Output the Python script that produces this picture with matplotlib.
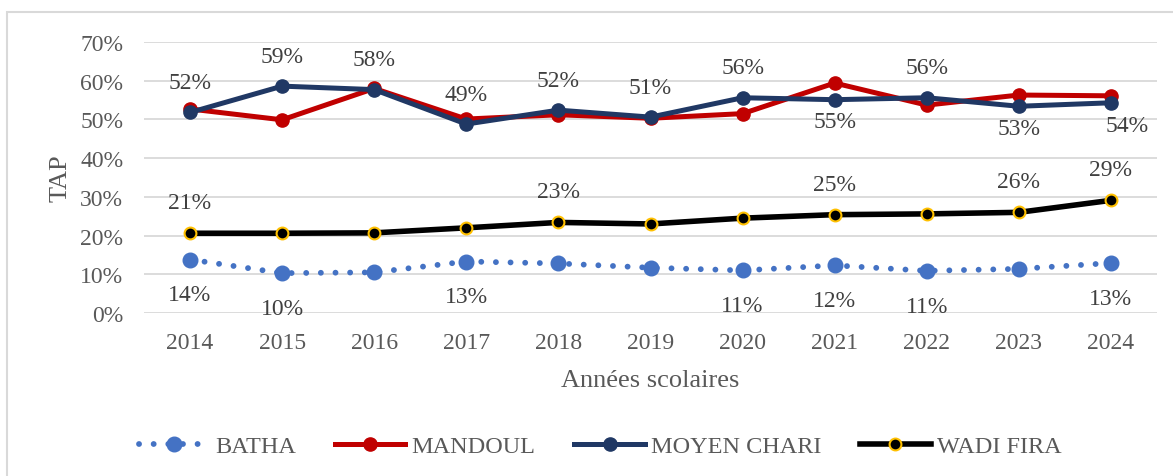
import matplotlib.pyplot as plt
from matplotlib.patches import Rectangle
from matplotlib.ticker import PercentFormatter

years = ['2014', '2015', '2016', '2017', '2018', '2019', '2020', '2021', '2022', '2023', '2024']

batha = [13.8, 10.3, 10.5, 13.3, 12.8, 11.7, 11.0, 12.3, 10.9, 11.4, 12.9]
mandoul = [52.7, 49.9, 58.0, 50.1, 51.2, 50.3, 51.5, 59.4, 53.7, 56.3, 56.1]
moyen_chari = [51.8, 58.6, 57.7, 48.8, 52.4, 50.6, 55.6, 55.1, 55.6, 53.4, 54.3]
wadi_fira = [20.6, 20.6, 20.7, 22.0, 23.4, 23.0, 24.5, 25.4, 25.6, 26.0, 29.1]

# which points carry a data label, and on which side
moyen_above = [0, 1, 2, 3, 4, 5, 6, 8]
moyen_below = [7, 9, 10]
wadi_above = [0, 4, 7, 9, 10]
batha_below = [0, 1, 3, 6, 7, 8, 10]

plt.rcParams['font.family'] = ['Liberation Serif', 'DejaVu Serif']
tick_col = '#595959'
lab_col = '#404040'

fig = plt.figure(figsize=(11.73, 4.77), dpi=100)
ax = fig.add_axes([144 / 1173, 1 - 314 / 477, (1157 - 144) / 1173, (314 - 43) / 477])

x = list(range(len(years)))

ax.plot(x, batha, color='#4472C4', lw=4.2, linestyle=(0, (0.01, 2.5)),
        dash_capstyle='round', marker='o', ms=10.5, label='BATHA', zorder=3)
ax.plot(x, mandoul, color='#C00000', lw=3.6, marker='o', ms=9.5,
        label='MANDOUL', zorder=4)
ax.plot(x, moyen_chari, color='#203864', lw=3.6, marker='o', ms=9.5,
        label='MOYEN CHARI', zorder=5)
ax.plot(x, wadi_fira, color='black', lw=4.0, marker='o', ms=8.5,
        mfc='black', mec='#FFC000', mew=1.5, label='WADI FIRA', zorder=4)

def fmt(v):
    return f'{round(v):.0f}%'

lab_kw = dict(ha='center', va='center', fontsize=17, color=lab_col,
              textcoords='offset points')
for i in moyen_above:
    ax.annotate(fmt(moyen_chari[i]), (i, moyen_chari[i]), xytext=(0, 21.5), **lab_kw)
for i in moyen_below:
    dx = 12 if i == len(years) - 1 else 0
    ax.annotate(fmt(moyen_chari[i]), (i, moyen_chari[i]), xytext=(dx, -16), **lab_kw)
for i in wadi_above:
    ax.annotate(fmt(wadi_fira[i]), (i, wadi_fira[i]), xytext=(0, 22), **lab_kw)
for i in batha_below:
    ax.annotate(fmt(batha[i]), (i, batha[i]), xytext=(0, -25.5), **lab_kw)

ax.set_xlim(-0.5, len(years) - 0.5)
ax.set_ylim(0, 70)
ax.set_yticks(range(0, 71, 10))
ax.yaxis.set_major_formatter(PercentFormatter(decimals=0))
ax.set_xticks(x)
ax.set_xticklabels(years)
ax.grid(axis='y', color='#D9D9D9', lw=1.3)
ax.set_axisbelow(True)
for s in ax.spines.values():
    s.set_visible(False)
ax.tick_params(length=0, labelsize=17, colors=tick_col)
ax.tick_params(axis='y', pad=15)
ax.tick_params(axis='x', pad=14)

ax.set_ylabel('TAP', fontsize=19, color=tick_col, labelpad=6)
ax.set_xlabel('Années scolaires', fontsize=19, color=tick_col, labelpad=11)

fig.legend(loc='center', bbox_to_anchor=(600 / 1173, 1 - 447 / 477), ncol=4,
           frameon=False, fontsize=17.5, labelcolor=tick_col, handlelength=2.9,
           handletextpad=0.25, columnspacing=1.6)

fig.patches.append(Rectangle((7 / 1173, -0.05), 1.2, 1.05 - 13 / 477,
                             transform=fig.transFigure, fill=False,
                             edgecolor='#D9D9D9', lw=1.5))

fig.savefig('out.png', dpi=100)
